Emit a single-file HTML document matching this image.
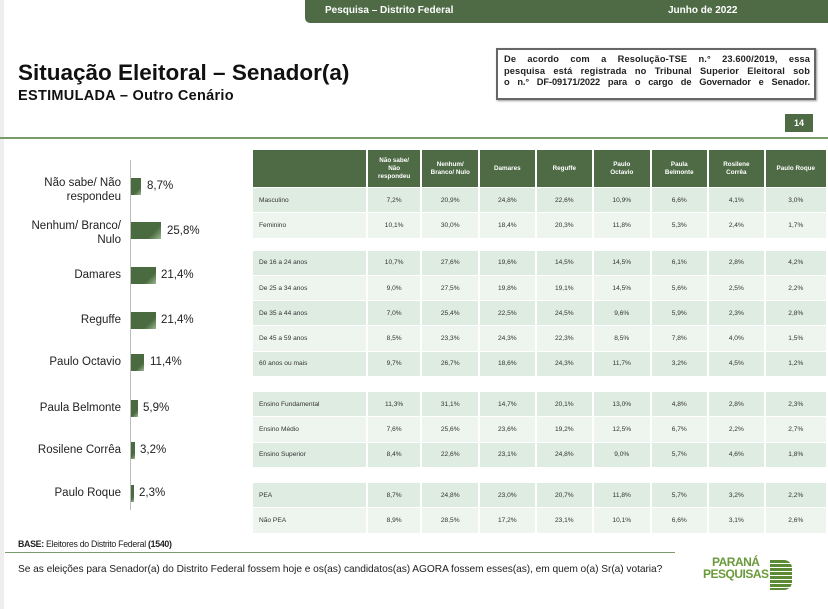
<!DOCTYPE html>
<html><head><meta charset="utf-8"><style>
body{margin:0;width:828px;height:609px;background:#fff;position:relative;overflow:hidden;font-family:"Liberation Sans",Arial,sans-serif;}
.a{position:absolute;}
table{position:absolute;left:251px;top:149px;border-collapse:separate;border-spacing:2px 1px;font-size:6.6px;color:#333;}
td{padding:0;text-align:center;}
th{background:#4e6b46;color:#fff;font-size:6.3px;font-weight:bold;height:35px;line-height:8px;}
tr.r td{height:24.3px;}
tr.a1 td{background:#dfece2;}
tr.a2 td{background:#eef5ef;}
td.l{text-align:left;padding-left:6px;}
tr.sp td{height:11px;background:#fff;}
.lab{position:absolute;right:707px;text-align:right;font-size:11.5px;color:#222;line-height:14px;}
.bar{position:absolute;left:131px;height:17px;background:linear-gradient(135deg,#4a6a40 0%,#4a6a40 70%,#9cb890 100%);}
.val{position:absolute;font-size:11.5px;color:#222;}
.ln{display:block;text-align:justify;text-align-last:justify;white-space:nowrap;}
</style></head><body>
<div class="a" style="left:0;top:0;width:4px;height:609px;background:#eee"></div>
<div class="a" style="left:305px;top:0;width:523px;height:23px;background:#4e6b46;border-bottom-left-radius:5px"></div>
<div class="a" style="left:325px;top:5px;color:#fff;font-size:10px;font-weight:bold">Pesquisa – Distrito Federal</div>
<div class="a" style="left:668px;top:5px;color:#fff;font-size:10px;font-weight:bold">Junho de 2022</div>
<div class="a" style="left:18px;top:60px;font-size:22.5px;font-weight:bold;color:#111">Situação Eleitoral – Senador(a)</div>
<div class="a" style="left:18px;top:88px;font-size:14.5px;font-weight:bold;color:#111;letter-spacing:0.3px">ESTIMULADA – Outro Cenário</div>
<div class="a" style="left:496px;top:48px;width:306px;height:44px;border:2px solid #666;box-shadow:1px 1px 2px #999;font-size:9.3px;font-weight:bold;line-height:11.5px;padding:4px 4px 0 6px;color:#222;letter-spacing:0.1px">
<span class="ln">De acordo com a Resolução-TSE n.° 23.600/2019, essa</span>
<span class="ln">pesquisa está registrada no Tribunal Superior Eleitoral sob</span>
<span class="ln" style="letter-spacing:-0.1px">o n.° DF-09171/2022 para o cargo de Governador e Senador.</span></div>
<div class="a" style="left:785px;top:114px;width:28px;height:18px;background:#4e6b46;color:#fff;font-size:9px;font-weight:bold;text-align:center;line-height:18px">14</div>
<div class="a" style="left:0;top:137px;width:828px;height:2px;background:#7a9b6a"></div>

<div class="a" style="left:130px;top:160px;width:1px;height:350px;background:#bbb"></div>
<div class="lab" style="top:176px">Não sabe/ Não<br>respondeu</div>
<div class="bar" style="top:178px;width:10px"></div><div class="val" style="left:147px;top:180px">8,7%</div>
<div class="lab" style="top:219px">Nenhum/ Branco/<br>Nulo</div>
<div class="bar" style="top:222px;width:30px"></div><div class="val" style="left:167px;top:225px">25,8%</div>
<div class="lab" style="top:268px">Damares</div>
<div class="bar" style="top:267px;width:25px"></div><div class="val" style="left:161px;top:269px">21,4%</div>
<div class="lab" style="top:313px">Reguffe</div>
<div class="bar" style="top:312px;width:25px"></div><div class="val" style="left:161px;top:314px">21,4%</div>
<div class="lab" style="top:355px">Paulo Octavio</div>
<div class="bar" style="top:354px;width:13px"></div><div class="val" style="left:150px;top:356px">11,4%</div>
<div class="lab" style="top:401px">Paula Belmonte</div>
<div class="bar" style="top:400px;width:7px"></div><div class="val" style="left:143px;top:402px">5,9%</div>
<div class="lab" style="top:443px">Rosilene Corrêa</div>
<div class="bar" style="top:442px;width:4px"></div><div class="val" style="left:140px;top:444px">3,2%</div>
<div class="lab" style="top:486px">Paulo Roque</div>
<div class="bar" style="top:485px;width:3px"></div><div class="val" style="left:139px;top:487px">2,3%</div>

<table>
<tr><th style="width:112px"></th><th style="width:51px">Não sabe/<br>Não<br>respondeu</th><th style="width:54px">Nenhum/<br>Branco/ Nulo</th><th style="width:53px">Damares</th><th style="width:54px">Reguffe</th><th style="width:54px">Paulo<br>Octavio</th><th style="width:54px">Paula<br>Belmonte</th><th style="width:53px">Rosilene<br>Corrêa</th><th style="width:59px">Paulo Roque</th></tr>
<tr class="r a1"><td class="l">Masculino</td><td>7,2%</td><td>20,9%</td><td>24,8%</td><td>22,6%</td><td>10,9%</td><td>6,6%</td><td>4,1%</td><td>3,0%</td></tr>
<tr class="r a2"><td class="l">Feminino</td><td>10,1%</td><td>30,0%</td><td>18,4%</td><td>20,3%</td><td>11,8%</td><td>5,3%</td><td>2,4%</td><td>1,7%</td></tr>
<tr class="sp"><td colspan="9"></td></tr>
<tr class="r a1"><td class="l">De 16 a 24 anos</td><td>10,7%</td><td>27,6%</td><td>19,6%</td><td>14,5%</td><td>14,5%</td><td>6,1%</td><td>2,8%</td><td>4,2%</td></tr>
<tr class="r a2"><td class="l">De 25 a 34 anos</td><td>9,0%</td><td>27,5%</td><td>19,8%</td><td>19,1%</td><td>14,5%</td><td>5,6%</td><td>2,5%</td><td>2,2%</td></tr>
<tr class="r a1"><td class="l">De 35 a 44 anos</td><td>7,0%</td><td>25,4%</td><td>22,5%</td><td>24,5%</td><td>9,6%</td><td>5,9%</td><td>2,3%</td><td>2,8%</td></tr>
<tr class="r a2"><td class="l">De 45 a 59 anos</td><td>8,5%</td><td>23,3%</td><td>24,3%</td><td>22,3%</td><td>8,5%</td><td>7,8%</td><td>4,0%</td><td>1,5%</td></tr>
<tr class="r a1"><td class="l">60 anos ou mais</td><td>9,7%</td><td>26,7%</td><td>18,6%</td><td>24,3%</td><td>11,7%</td><td>3,2%</td><td>4,5%</td><td>1,2%</td></tr>
<tr class="sp"><td colspan="9" style="height:14px"></td></tr>
<tr class="r a1"><td class="l">Ensino Fundamental</td><td>11,3%</td><td>31,1%</td><td>14,7%</td><td>20,1%</td><td>13,0%</td><td>4,8%</td><td>2,8%</td><td>2,3%</td></tr>
<tr class="r a2"><td class="l">Ensino Médio</td><td>7,6%</td><td>25,6%</td><td>23,6%</td><td>19,2%</td><td>12,5%</td><td>6,7%</td><td>2,2%</td><td>2,7%</td></tr>
<tr class="r a1"><td class="l">Ensino Superior</td><td>8,4%</td><td>22,6%</td><td>23,1%</td><td>24,8%</td><td>9,0%</td><td>5,7%</td><td>4,6%</td><td>1,8%</td></tr>
<tr class="sp"><td colspan="9" style="height:14px"></td></tr>
<tr class="r a1"><td class="l">PEA</td><td>8,7%</td><td>24,8%</td><td>23,0%</td><td>20,7%</td><td>11,8%</td><td>5,7%</td><td>3,2%</td><td>2,2%</td></tr>
<tr class="r a2"><td class="l">Não PEA</td><td>8,9%</td><td>28,5%</td><td>17,2%</td><td>23,1%</td><td>10,1%</td><td>6,6%</td><td>3,1%</td><td>2,6%</td></tr>
</table>

<div class="a" style="left:18px;top:539px;font-size:8.8px;color:#222;letter-spacing:-0.3px"><b>BASE:</b> Eleitores do Distrito Federal <b>(1540)</b></div>
<div class="a" style="left:5px;top:552px;width:670px;height:1px;background:#7a9b6a"></div>
<div class="a" style="left:18px;top:564px;font-size:10.2px;color:#222;letter-spacing:-0.05px">Se as eleições para Senador(a) do Distrito Federal fossem hoje e os(as) candidatos(as) AGORA fossem esses(as), em quem o(a) Sr(a) votaria?</div>
<div class="a" style="left:703px;top:556px;font-size:12px;font-weight:bold;color:#6a9a3a;line-height:12px;text-align:center;letter-spacing:-0.5px">PARANÁ<br>PESQUISAS</div>
<div class="a" style="left:770px;top:560px;width:22px;height:30px;background:repeating-linear-gradient(#5d8a34 0 3px,#fff 3px 4px);border-radius:0 8px 8px 0"></div>
</body></html>
